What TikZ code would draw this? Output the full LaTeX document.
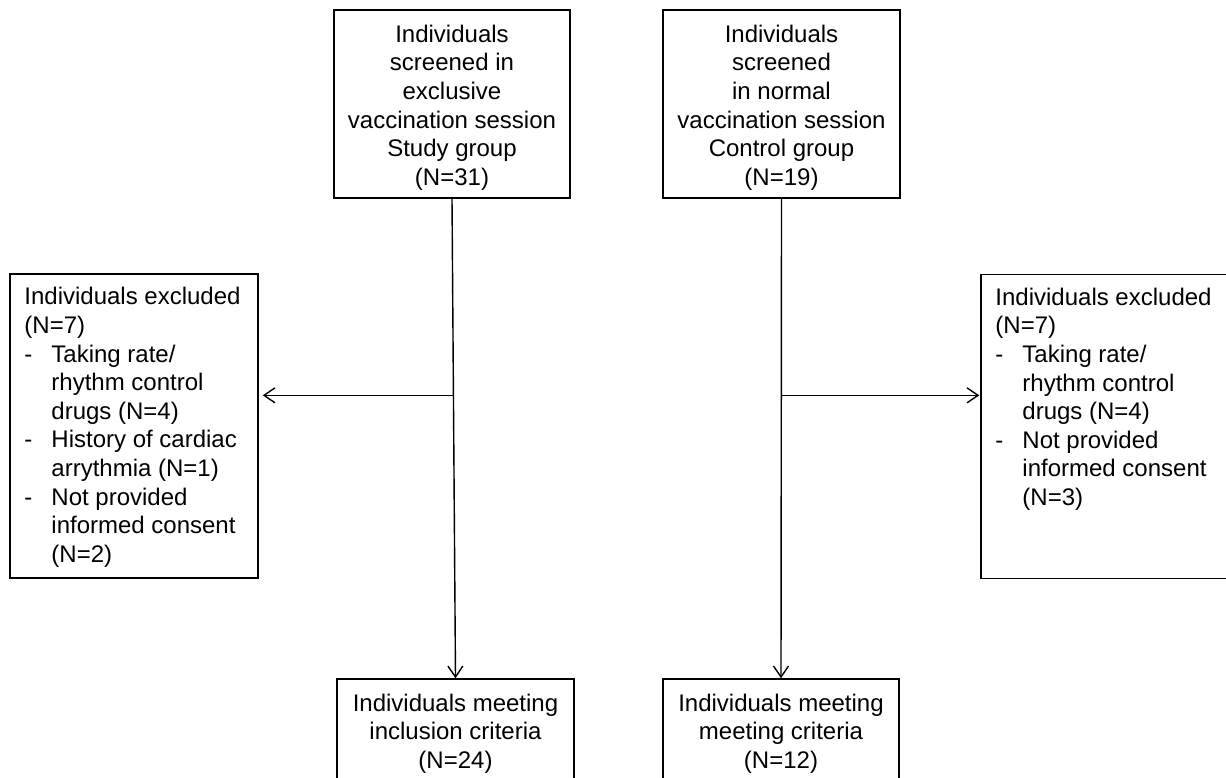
\documentclass[tikz,border=0pt]{standalone}
\usepackage{fontspec}
\setmainfont{Liberation Sans}
\usetikzlibrary{arrows.meta,calc}
\newcommand{\bulitem}{\makebox[27pt][l]{-}}
\newcommand{\contitem}{\hspace*{27pt}}
\begin{document}
\begin{tikzpicture}[x=1pt,y=-1pt,
  box/.style={draw, line width=1.5pt, rectangle, inner sep=0pt},
  txt/.style={font=\fontsize{24}{28.6}\selectfont, inner sep=0pt},
  conn/.style={line width=1.4pt},
  arr/.style={conn, -{Straight Barb[length=11pt,width=15pt,line width=1.4pt]}}]
\useasboundingbox (0,0) rectangle (1226,778);
\fill[white] (0,0) rectangle (1226,778);
\clip (0,0) rectangle (1226,778);

\node[box, minimum width=236pt, minimum height=188pt] (tl) at (452,104) {};
\node[txt, align=center] (tlt) at ($(tl.center)+(0,3.5)$)
  {Individuals\\screened in\\exclusive\\vaccination session\\Study group\\(N=31)};
\node[box, minimum width=237pt, minimum height=188pt] (tr) at (781.5,104) {};
\node[txt, align=center] (trt) at ($(tr.center)+(0,3.5)$)
  {Individuals\\screened\\in normal\\vaccination session\\Control group\\(N=19)};

\node[box, minimum width=248pt, minimum height=304pt] (exL) at (134,426) {};
\node[box, minimum width=265pt, minimum height=304pt] (exR) at (1113.5,426.5) {};

\node[txt, align=left, anchor=north west] (exLt) at ($(exL.north west)+(15,14)$)
  {Individuals excluded\\(N=7)\\\bulitem Taking rate/\\\contitem rhythm control\\\contitem drugs (N=4)\\\bulitem History of cardiac\\\contitem arrythmia (N=1)\\\bulitem Not provided\\\contitem informed consent\\\contitem (N=2)};
\node[txt, align=left, anchor=north west] (exRt) at ($(exR.north west)+(15,14)$)
  {Individuals excluded\\(N=7)\\\bulitem Taking rate/\\\contitem rhythm control\\\contitem drugs (N=4)\\\bulitem Not provided\\\contitem informed consent\\\contitem (N=3)};

\node[box, minimum width=237pt, minimum height=102pt] (bl) at (455.5,730) {};
\node[txt, align=center] (blt) at ($(bl.center)+(0,3.5)$)
  {Individuals meeting\\inclusion criteria\\(N=24)};
\node[box, minimum width=236pt, minimum height=102pt] (br) at (781,730) {};
\node[txt, align=center] (brt) at ($(br.center)+(0,3.5)$)
  {Individuals meeting\\meeting criteria\\(N=12)};

\draw[arr] (tl.south) -- (bl.north);
\coordinate (jL) at ($(tl.south)!0.41!(bl.north)$);
\draw[arr, shorten >=4pt] (jL) -- (jL -| exL.east);

\draw[arr] (tr.south) -- (br.north);
\coordinate (jR) at ($(tr.south)!0.41!(br.north)$);
\draw[arr, shorten >=1pt] (jR) -- (jR -| exR.west);
\end{tikzpicture}
\end{document}
